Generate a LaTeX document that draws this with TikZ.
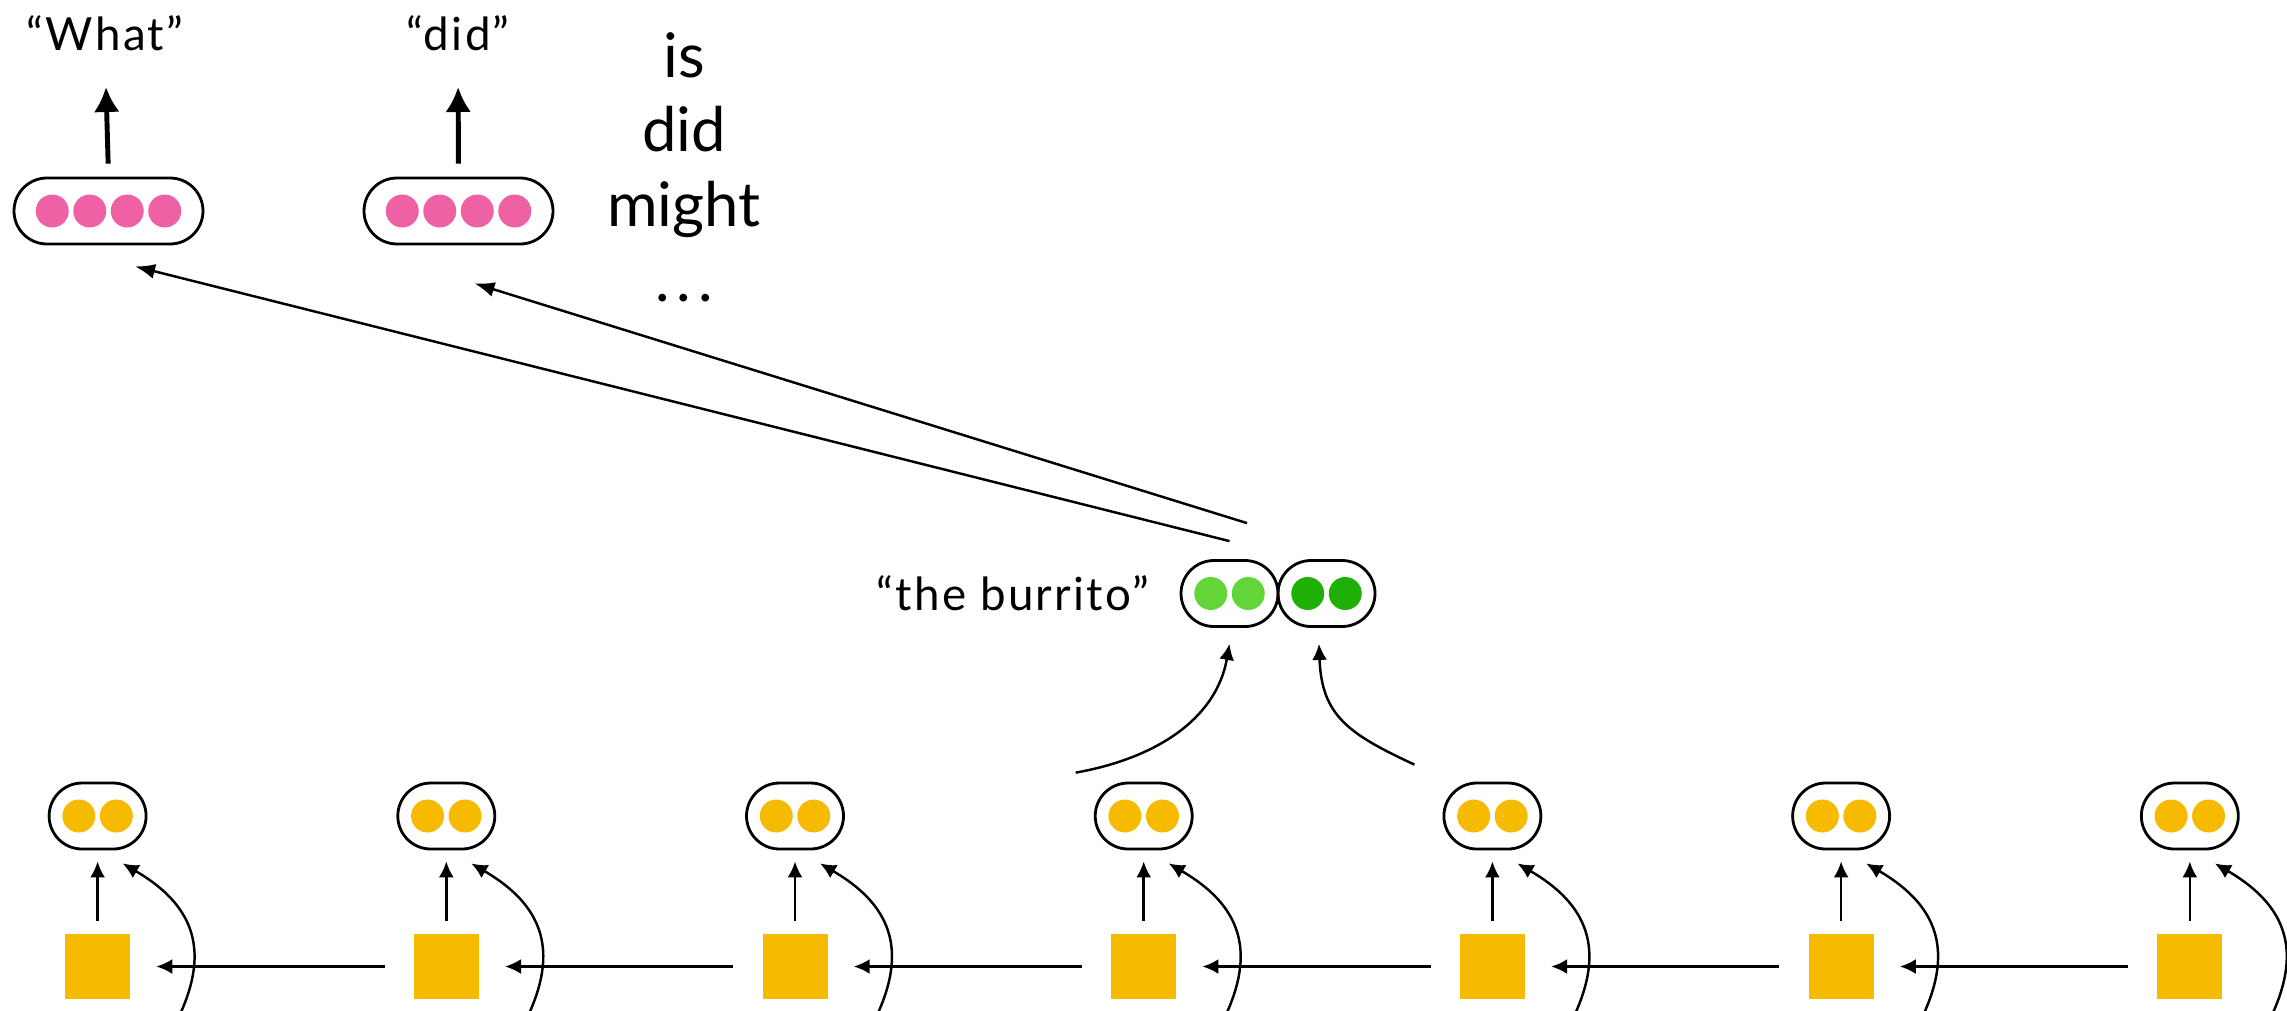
\documentclass[tikz,border=0pt]{standalone}
\usepackage{fontspec}
\setmainfont{Lato}
\usetikzlibrary{positioning,calc,arrows.meta}

\definecolor{dotpink}{RGB}{239,97,165}
\definecolor{dotyellow}{RGB}{246,187,0}
\definecolor{dotlight}{RGB}{99,213,57}
\definecolor{dotdark}{RGB}{31,176,8}

\tikzset{
  pill/.style={draw,line width=0.8pt,rounded corners=0.33cm,minimum height=0.66cm,inner sep=0pt},
  pillfour/.style={pill,minimum width=1.89cm},
  pilltwo/.style={pill,minimum width=0.97cm},
  dot/.style={circle,inner sep=0pt,minimum size=0.33cm},
  cell/.style={fill=dotyellow,minimum size=0.65cm,inner sep=0pt},
  word/.style={inner sep=0pt,font=\fontsize{13}{16}\selectfont\addfontfeature{LetterSpace=5}},
  bigword/.style={inner sep=0pt,align=center,font=\fontsize{17.5}{21.3}\selectfont},
  bigarrow/.style={line width=1.4pt,-{Latex[length=0.25cm,width=0.26cm]}},
}

\begin{document}
\begin{tikzpicture}[line width=0.7pt,>={Latex[length=0.16cm,width=0.15cm]},->]
\useasboundingbox (0,0) rectangle (22.87,-10.10);
\clip (0,0) rectangle (22.87,-10.10);

% output words
\node[pillfour] (out1) at (1.085,-2.11) {};
\node[pillfour] (out2) at (4.585,-2.11) {};
\foreach \p in {out1,out2}{
  \foreach \i/\dx in {1/-0.5625,2/-0.1875,3/0.1875,4/0.5625}
    \node[dot,fill=dotpink] (\p d\i) at ($(\p)+(\dx,0)$) {};
}
\node[word,anchor=base] (w1) at (1.05,-0.50) {“What”};
\node[word,anchor=base] (w2) at (4.58,-0.50) {“did”};
\draw[bigarrow,shorten <=0.13cm,shorten >=0.37cm] (out1.north) -- (w1.base);
\draw[bigarrow,shorten <=0.13cm,shorten >=0.37cm] (out2.north) -- (w2.base);

\node[bigword,anchor=north] (cands) at (6.84,-0.31) {is\\did\\might\\.\kern2pt.\kern2pt.};

% the phrase
\node[pilltwo] (bl) at (12.295,-5.935) {};
\node[pilltwo] (br) at (13.265,-5.935) {};
\node[dot,fill=dotlight] (bl1) at ($(bl)+(-0.1875,0)$) {};
\node[dot,fill=dotlight] (bl2) at ($(bl)+(0.1875,0)$) {};
\node[dot,fill=dotdark] (br1) at ($(br)+(-0.1875,0)$) {};
\node[dot,fill=dotdark] (br2) at ($(br)+(0.1875,0)$) {};
\node[word,left=0.29cm of bl] (phrase) {“the burrito”};

\coordinate (from1) at ($(bl.north)+(0,0.18)$);
\coordinate (from2) at ($(bl.north)+(0.175,0.36)$);
\coordinate (to1) at ($(out1.south)+(0.265,-0.21)$);
\coordinate (to2) at ($(out2.south)+(0.16,-0.38)$);
\draw[->,>={Latex[length=0.2cm,width=0.15cm]}] (from1) -- (to1);
\draw[->,>={Latex[length=0.2cm,width=0.15cm]}] (from2) -- (to2);

% bottom row
\foreach \k in {1,...,7}{
  \pgfmathsetmacro\x{0.976+3.487*(\k-1)}
  \node[cell] (c\k) at (\x,-9.665) {};
  \node[pilltwo] (h\k) at (\x,-8.16) {};
  \node[dot,fill=dotyellow] (h\k a) at ($(h\k)+(-0.1875,0)$) {};
  \node[dot,fill=dotyellow] (h\k b) at ($(h\k)+(0.1875,0)$) {};
  \draw[->,shorten <=0.12cm,shorten >=0.11cm] (c\k) -- (h\k);
  \coordinate (t\k) at ($(h\k.south)+(0.25,-0.13)$);
  \coordinate (s\k) at ($(t\k)+(0.095,-2.28)$);
  \draw[->] (s\k) .. controls +(0.75,1.0) and +(0.995,-0.58) .. (t\k);
}
\foreach \k [evaluate=\k as \n using int(\k+1)] in {1,...,6}
  \draw[->,shorten <=0.28cm,shorten >=0.25cm] (c\n) -- (c\k);

\coordinate (bs1) at ($(h4.north)+(-0.68,0.09)$);
\coordinate (bt1) at ($(bl.south)+(0,-0.16)$);
\coordinate (bs2) at ($(h5.north)+(-0.78,0.17)$);
\coordinate (bt2) at ($(br.south)+(-0.075,-0.16)$);
\draw[->] (bs1) to[out=10,in=-100] (bt1);
\draw[->] (bs2) to[out=155,in=-88,looseness=1.2] (bt2);

\end{tikzpicture}
\end{document}
